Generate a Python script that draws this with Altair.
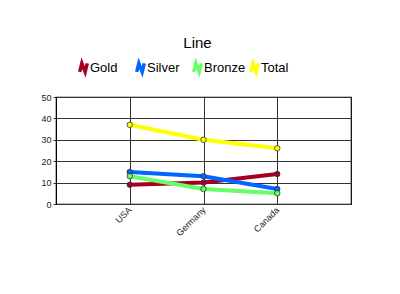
import altair as alt
import pandas as pd

countries = ["USA", "Germany", "Canada"]
series = ["Gold", "Silver", "Bronze", "Total"]
gold = [9, 10, 14]
silver = [15, 13, 7]
bronze = [13, 7, 5]
total = [37, 30, 26]
colors = ["#a50021", "#0066ff", "#66ff66", "#ffff00"]

rows = []
for name, vals in zip(series, [gold, silver, bronze, total]):
    for c, v in zip(countries, vals):
        rows.append({"country": c, "series": name, "value": v})
df = pd.DataFrame(rows)

N_PATH = "M-0.8,0.9 L-0.35,-0.9 L0.35,0.9 L0.8,-0.9"

x = alt.X("country:N", sort=countries, title=None,
          scale=alt.Scale(type="point", padding=1),
          axis=alt.Axis(labelAngle=-45, labelAlign="right", labelBaseline="middle",
                        labelFontSize=9, labelColor="#222", grid=True, gridColor="#333",
                        gridOpacity=1, ticks=False, domain=False, labelPadding=4,
                        labelFont="Liberation Sans"))
y = alt.Y("value:Q", title=None,
          scale=alt.Scale(domain=[0, 50]),
          axis=alt.Axis(values=[0, 10, 20, 30, 40, 50], labelFontSize=9, labelColor="#222",
                        gridColor="#333", gridOpacity=1, ticks=True, tickSize=3,
                        tickColor="#333", domainColor="#000", labelPadding=2,
                        labelFont="Liberation Sans"))
color = alt.Color("series:N", sort=series,
                  scale=alt.Scale(domain=series, range=colors),
                  legend=alt.Legend(title=None, orient="none", direction="horizontal",
                                    legendX=21, legendY=-36, symbolType=N_PATH,
                                    symbolSize=90, symbolStrokeWidth=3.5,
                                    symbolFillColor="transparent",
                                    labelFontSize=13, labelFont="Liberation Sans",
                                    labelColor="#000", gridAlign="all", columnPadding=-3,
                                    labelOffset=0))

base = alt.Chart(df)
lines = base.mark_line(strokeWidth=4).encode(x=x, y=y, color=color)
points = base.mark_point(filled=True, size=30, stroke="#333", strokeWidth=0.8,
                         opacity=1).encode(
    x=x, y=y, fill=alt.Fill("series:N", scale=alt.Scale(domain=series, range=colors), legend=None))

chart = (lines + points).properties(
    width=295, height=107,
    title=alt.TitleParams("Line", fontSize=15, fontWeight="normal", font="Liberation Sans",
                          color="#000", anchor="middle", offset=10, dx=-6),
    autosize="none",
    padding={"left": 56, "top": 97, "right": 49, "bottom": 90},
).configure_view(stroke="#000", strokeWidth=1.2)

chart.save("out.html", embed_options={"renderer": "svg", "actions": False})
